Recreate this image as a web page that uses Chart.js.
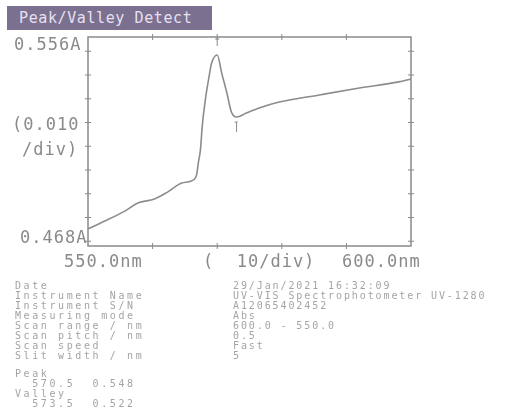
<!DOCTYPE html>
<html>
<head>
<meta charset="utf-8">
<script src="https://cdn.jsdelivr.net/npm/chart.js@4/dist/chart.umd.min.js"></script>
<style>
  html, body { margin: 0; padding: 0; background: #fff; }
  #wrap { position: relative; width: 507px; height: 412px; overflow: hidden; }
  #chart { position: absolute; left: 0; top: 0; }
  .t { position: absolute; font-family: 'DejaVu Sans Mono', monospace; color: #8a8a8a; white-space: pre; line-height: 1; }
  .ax { font-size: 17px; letter-spacing: 1px; }
  .sm { font-size: 10px; letter-spacing: 2.6px; color: #a4a4a4; line-height: 10px; }
  #title { position: absolute; left: 7px; top: 6px; width: 205px; height: 24px; background: #7c7090;
           color: #e6e0f0; font-family: 'DejaVu Sans Mono', monospace; font-size: 15px; letter-spacing: 0.6px;
           line-height: 24px; padding-left: 12px; box-sizing: border-box; }
</style>
</head>
<body>
<div id="wrap">
  <canvas id="chart" width="507" height="412"></canvas>
  <div id="title">Peak/Valley Detect</div>
  <div class="t ax" style="left:14px; top:36px;">0.556A</div>
  <div class="t ax" style="left:12px; top:116px;">(0.010</div>
  <div class="t ax" style="left:22px; top:141px;">/div)</div>
  <div class="t ax" style="left:20px; top:229px;">0.468A</div>
  <div class="t ax" style="left:64px; top:253px;">550.0nm</div>
  <div class="t ax" style="left:203px; top:253px;">(  10/div)</div>
  <div class="t ax" style="left:342px; top:253px;">600.0nm</div>
  <div class="t sm" style="left:15px; top:281px;">Date
Instrument Name
Instrument S/N
Measuring mode
Scan range / nm
Scan pitch / nm
Scan speed
Slit width / nm</div>
  <div class="t sm" style="left:233px; top:281px; letter-spacing:1.9px;">29/Jan/2021 16:32:09
UV-VIS Spectrophotometer UV-1280
A12065402452
Abs
600.0 - 550.0
0.5
Fast
5</div>
  <div class="t sm" style="left:15px; top:369px;">Peak
  570.5  0.548
Valley
  573.5  0.522</div>
</div>
<script>
// スペクトルデータ
const WAVELENGTHS = [550.0, 550.3, 552.6, 555.7, 557.7, 560.3, 562.3, 564.5, 566.0, 566.8, 567.1, 567.4, 567.7,
  568.2, 568.7, 569.1, 570.0, 570.7, 571.5, 572.2, 573.0, 574.5, 576.5, 579.6, 585.8, 592.0, 598.1, 600.0];
const ABSORBANCE = [0.4752, 0.4756, 0.4785, 0.4827, 0.4861, 0.4878, 0.4907, 0.4945, 0.4954, 0.4979, 0.5034, 0.5084, 0.5189,
  0.5303, 0.5387, 0.5446, 0.5484, 0.5408, 0.5324, 0.5244, 0.5223, 0.5240, 0.5261, 0.5286, 0.5316, 0.5345, 0.5371, 0.5383];
const X_TICKS = [560, 570, 580, 590];
const Y_TICKS = [0.47, 0.48, 0.49, 0.50, 0.51, 0.52, 0.53, 0.54, 0.55];
const PEAK = { x: 570.0, y: 0.5484 };
const VALLEY = { x: 573.0, y: 0.5223 };

const X_MIN = 550, X_MAX = 600;
const Y_MIN = 0.468, Y_MAX = 0.556;

const frameColor = '#8a8a8a';

// 枠・目盛り・ピークマーカーを描くプラグイン
const framePlugin = {
  id: 'frame',
  afterDatasetsDraw(chart) {
    const { ctx, chartArea: a, scales } = chart;
    const xs = scales.x, ys = scales.y;
    ctx.save();
    ctx.strokeStyle = frameColor;
    ctx.lineWidth = 1.5;
    ctx.strokeRect(a.left, a.top, a.right - a.left, a.bottom - a.top);
    ctx.lineWidth = 1;
    X_TICKS.forEach(v => {
      const px = xs.getPixelForValue(v);
      ctx.beginPath();
      ctx.moveTo(px, a.top - 3); ctx.lineTo(px, a.top + 3);
      ctx.moveTo(px, a.bottom - 3); ctx.lineTo(px, a.bottom + 3);
      ctx.stroke();
    });
    Y_TICKS.forEach(v => {
      const py = ys.getPixelForValue(v);
      ctx.beginPath();
      ctx.moveTo(a.left - 3, py); ctx.lineTo(a.left + 3, py);
      ctx.moveTo(a.right - 3, py); ctx.lineTo(a.right + 3, py);
      ctx.stroke();
    });
    // ピーク・バレーの印
    const pk = xs.getPixelForValue(PEAK.x);
    ctx.beginPath();
    ctx.moveTo(pk, a.top); ctx.lineTo(pk, a.top + 9);
    ctx.moveTo(pk - 2, a.top + 2); ctx.lineTo(pk + 2, a.top + 2);
    ctx.stroke();
    const vx = xs.getPixelForValue(VALLEY.x);
    const vy = ys.getPixelForValue(VALLEY.y);
    ctx.beginPath();
    ctx.moveTo(vx, vy + 5); ctx.lineTo(vx, vy + 15);
    ctx.moveTo(vx - 2, vy + 5); ctx.lineTo(vx + 1, vy + 5);
    ctx.stroke();
    ctx.restore();
  }
};

new Chart(document.getElementById('chart'), {
  type: 'line',
  data: {
    datasets: [{
      data: WAVELENGTHS.map((x, i) => ({ x: x, y: ABSORBANCE[i] })),
      borderColor: '#8c8c8c',
      borderWidth: 1.6,
      pointRadius: 0,
      cubicInterpolationMode: 'monotone',
      fill: false
    }]
  },
  options: {
    responsive: false,
    animation: false,
    layout: { padding: { left: 88, top: 37, right: 96, bottom: 166 } },
    plugins: { legend: { display: false }, tooltip: { enabled: false } },
    scales: {
      x: { type: 'linear', min: X_MIN, max: X_MAX, display: false },
      y: { type: 'linear', min: Y_MIN, max: Y_MAX, display: false }
    }
  },
  plugins: [framePlugin]
});
</script>
</body>
</html>
